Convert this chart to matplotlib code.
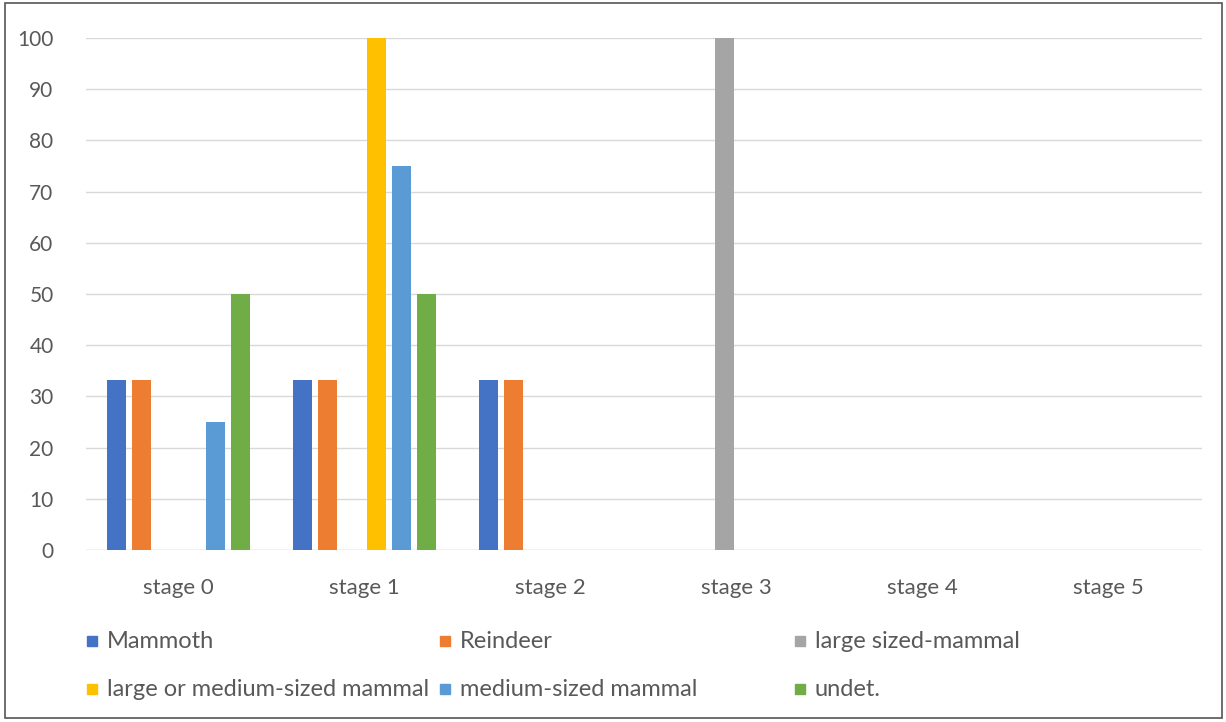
import matplotlib
matplotlib.use("Agg")
import matplotlib.pyplot as plt
import numpy as np
from matplotlib.patches import Rectangle

categories = ["stage 0", "stage 1", "stage 2", "stage 3", "stage 4", "stage 5"]
series_names = ["Mammoth", "Reindeer", "large sized-mammal",
                "large or medium-sized mammal", "medium-sized mammal", "undet."]
mammoth = [33.3, 33.3, 33.3, 0, 0, 0]
reindeer = [33.3, 33.3, 33.3, 0, 0, 0]
large_sized = [0, 0, 0, 100, 0, 0]
large_or_medium = [0, 100, 0, 0, 0, 0]
medium_sized = [25, 75, 0, 0, 0, 0]
undet = [50, 50, 0, 0, 0, 0]
yticks = [0, 10, 20, 30, 40, 50, 60, 70, 80, 90, 100]

colors = ["#4472C4", "#ED7D31", "#A5A5A5", "#FFC000", "#5B9BD5", "#70AD47"]
all_series = [mammoth, reindeer, large_sized, large_or_medium, medium_sized, undet]

plt.rcParams['font.family'] = ['Lato', 'DejaVu Sans']
W, H = 1226, 722
fig = plt.figure(figsize=(W/100, H/100), dpi=100)
ax = fig.add_axes([85.5/W, 1-550/H, (1201.5-85.5)/W, (550-38)/H])

x = np.arange(len(categories))
slot = 0.1328
bw = 0.102
for i, (vals, c) in enumerate(zip(all_series, colors)):
    ax.bar(x + (i - 2.5)*slot, vals, width=bw, color=c, zorder=3)

ax.set_xlim(-0.5, len(categories)-0.5)
ax.set_ylim(0, 100)
ax.set_yticks(yticks)
ax.set_xticks(x)
ax.set_xticklabels(categories)
ax.grid(axis='y', color='#d9d9d9', lw=1, zorder=0)
for s in ax.spines.values():
    s.set_visible(False)
ax.axhline(0, color='#d9d9d9', lw=1, zorder=2)
ax.tick_params(axis='both', length=0, colors='#595959')
ax.tick_params(axis='y', pad=23, labelsize=15)
ax.tick_params(axis='x', pad=20, labelsize=16)

# legend
leg_cols = [92, 445, 800]
leg_rows = [641, 689]
for k in range(len(series_names)):
    r, cc = divmod(k, 3)
    px, py = leg_cols[cc], leg_rows[r]
    fig.patches.append(Rectangle(((px-5)/W, 1-(py+5)/H), 10/W, 10/H,
                                 transform=fig.transFigure, color=colors[k]))
    fig.text((px+15)/W, 1-py/H, series_names[k], fontsize=17, color='#595959',
             va='center', ha='left')

fig.patches.append(Rectangle((5/W, 1-718/H), 1217/W, 715/H, transform=fig.transFigure,
                             fill=False, edgecolor='#555555', lw=1.2))
fig.savefig("out.png", dpi=100)
